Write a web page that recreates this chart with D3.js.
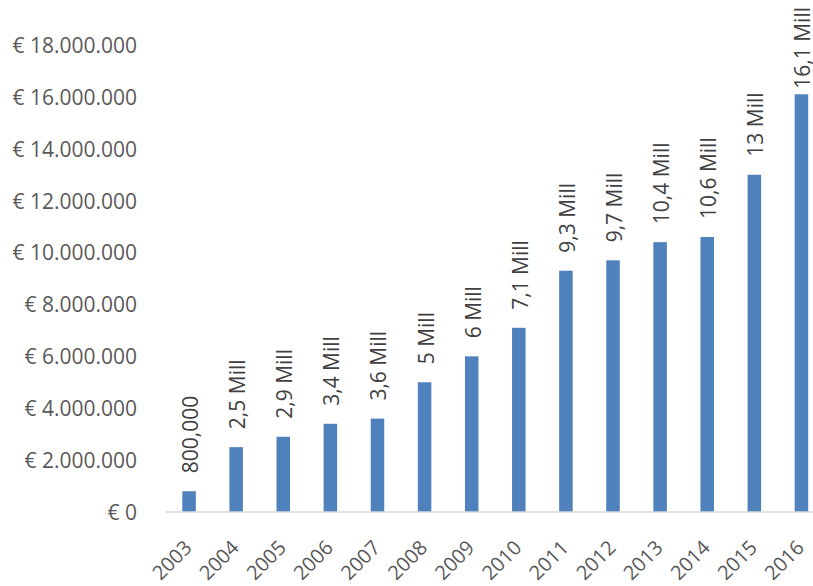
<!DOCTYPE html>
<html>
<head>
<meta charset="utf-8">
<script src="https://cdn.jsdelivr.net/npm/d3@7"></script>
<style>
  html, body { margin: 0; padding: 0; background: #fff; }
  svg { display: block; }
  text { font-family: "Open Sans", "Noto Sans", sans-serif; }
</style>
</head>
<body>
<svg id="chart" width="813" height="586"></svg>
<script>
// Yearly amounts (euro)
const years = ["2003","2004","2005","2006","2007","2008","2009","2010","2011","2012","2013","2014","2015","2016"];
const amounts = [800000, 2500000, 2900000, 3400000, 3600000, 5000000, 6000000, 7100000, 9300000, 9700000, 10400000, 10600000, 13000000, 16100000];
const valueLabels = ["800,000","2,5 Mill","2,9 Mill","3,4 Mill","3,6 Mill","5 Mill","6 Mill","7,1 Mill","9,3 Mill","9,7 Mill","10,4 Mill","10,6 Mill","13 Mill","16,1 Mill"];
const yTicks = [0, 2000000, 4000000, 6000000, 8000000, 10000000, 12000000, 14000000, 16000000, 18000000];

const data = years.map((y, i) => ({ year: y, value: amounts[i], label: valueLabels[i] }));

const svg = d3.select("#chart");
const plotLeft = 165.5, plotRight = 825, plotBottom = 512, plotTop = 45;

const x = d3.scaleBand()
  .domain(years)
  .range([plotLeft, plotRight])
  .paddingInner(0.713)
  .paddingOuter(0.3565);

const y = d3.scaleLinear()
  .domain([0, 18000000])
  .range([plotBottom, plotTop]);

const euro = v => "€ " + d3.format(",")(v).replace(/,/g, ".");

// y-axis labels (no line, no ticks)
const yAxis = d3.axisLeft(y).tickValues(yTicks).tickFormat(euro).tickSize(0).tickPadding(0);
const yg = svg.append("g").attr("transform", "translate(137,0)").call(yAxis);
yg.select(".domain").remove();
yg.selectAll("text")
  .attr("fill", "#595959")
  .style("font-size", "21px")
  .style("font-family", "'Open Sans', sans-serif")
  .attr("dy", "0.35em");

// bars
svg.append("g").selectAll("rect")
  .data(data)
  .join("rect")
  .attr("x", d => x(d.year))
  .attr("width", x.bandwidth())
  .attr("y", d => y(d.value))
  .attr("height", d => y(0) - y(d.value))
  .attr("fill", "#4F81BD");

// category axis line
svg.append("line")
  .attr("x1", plotLeft).attr("x2", plotRight)
  .attr("y1", y(0)).attr("y2", y(0))
  .attr("stroke", "#D9D9D9")
  .attr("stroke-width", 1.5);

// category labels, rotated 45°
svg.append("g").selectAll("text")
  .data(data)
  .join("text")
  .attr("transform", d => `translate(${x(d.year) + x.bandwidth() / 2 + 4},549) rotate(-45)`)
  .attr("text-anchor", "end")
  .attr("fill", "#595959")
  .style("font-size", "20px")
  .text(d => d.year);

// value labels, vertical, above each bar (kept inside the top edge)
const labels = svg.append("g").selectAll("text")
  .data(data)
  .join("text")
  .attr("text-anchor", "start")
  .attr("dominant-baseline", "central")
  .attr("fill", "#404040")
  .style("font-size", "21px")
  .text(d => d.label);

labels.each(function(d) {
  const len = this.getComputedTextLength();
  const cx = x(d.year) + x.bandwidth() / 2 + 1;
  const startY = Math.max(y(d.value) - 18, 7 + len);
  d3.select(this).attr("transform", `translate(${cx},${startY}) rotate(-90)`);
});
</script>
</body>
</html>
